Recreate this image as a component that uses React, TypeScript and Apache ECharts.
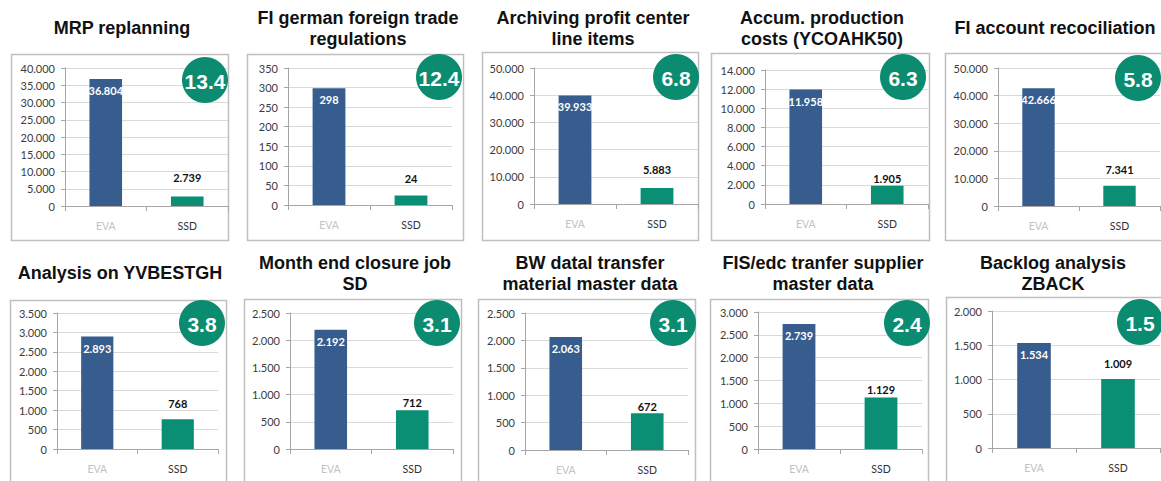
import React, { useEffect, useRef } from "react";
import * as echarts from "echarts";

// ---- data ----
const titles = [
  "MRP replanning",
  "FI german foreign trade\nregulations",
  "Archiving profit center\nline items",
  "Accum. production\ncosts (YCOAHK50)",
  "FI account recociliation",
  "Analysis on YVBESTGH",
  "Month end closure job\nSD",
  "BW datal transfer\nmaterial master data",
  "FIS/edc tranfer supplier\nmaster data",
  "Backlog analysis\nZBACK",
];
const categories = ["EVA", "SSD"];
const evaValues = [36804, 298, 39933, 11958, 42666, 2893, 2192, 2063, 2739, 1534];
const ssdValues = [2739, 24, 5883, 1905, 7341, 768, 712, 672, 1129, 1009];
const speedupLabels = ["13.4", "12.4", "6.8", "6.3", "5.8", "3.8", "3.1", "3.1", "2.4", "1.5"];
const axisMax = [40000, 350, 50000, 14000, 50000, 3500, 2500, 2500, 3000, 2000];
const axisInterval = [5000, 50, 10000, 2000, 10000, 500, 500, 500, 500, 500];

// ---- layout (positions / styles) ----
const plotBoxes = [
  [65, 68, 228, 206],
  [288, 68, 452, 205],
  [534, 68, 698, 204],
  [765, 70, 928, 204],
  [998, 68, 1160, 206],
  [57, 313, 218, 449],
  [290, 313, 453, 449],
  [525, 313, 688, 450],
  [758, 312, 922, 449],
  [992, 311, 1160, 448],
];
const panelRects = [
  [11, 54, 217, 186],
  [247, 54, 216, 186],
  [482, 52, 216, 188],
  [711, 53, 218, 187],
  [945, 53, 222, 187],
  [10, 300, 216, 186],
  [244, 299, 217, 186],
  [478, 299, 217, 186],
  [710, 299, 218, 186],
  [946, 297, 222, 188],
];
const circleCenters = [
  [205, 80], [439, 77], [676, 77], [903, 77], [1138, 78],
  [202, 323], [437, 323], [673, 323], [907, 323], [1140, 322],
];
const titleCenters = [
  [122, 28], [358, 28], [593, 28], [822, 28], [1055, 28],
  [120, 273], [355, 273], [590, 273], [823, 273], [1053, 273],
];
const ssdLabelGap = [14, 12, 13, 2, 11, 10, 2, 1, 2, 10];

const BLUE = "#375d8e";
const GREEN = "#0a8f75";
const CIRCLE = "#0b8b70";

const fmt = (v: number) => String(v).replace(/\B(?=(\d{3})+(?!\d))/g, ".");

export default function App() {
  const ref = useRef<HTMLDivElement>(null);
  useEffect(() => {
    if (!ref.current) return;
    const chart = echarts.init(ref.current, undefined, { renderer: "svg" });
    const grid: any[] = [];
    const xAxis: any[] = [];
    const yAxis: any[] = [];
    const series: any[] = [];
    const graphic: any[] = [];
    for (let i = 0; i < titles.length; i++) {
      const [x0, y0, x1, y1] = plotBoxes[i];
      grid.push({ left: x0, top: y0, width: x1 - x0, height: y1 - y0 });
      xAxis.push({
        type: "category",
        gridIndex: i,
        data: categories,
        axisLine: { lineStyle: { color: "#a6a6a6", width: 1 } },
        axisTick: { show: true, length: 5, lineStyle: { color: "#a6a6a6" } },
        axisLabel: {
          margin: 14,
          fontSize: 10.5,
          fontFamily: "Lato",
          color: (_v: any, idx: number) => (idx === 0 ? "#c2c2c2" : "#333333"),
        },
      });
      yAxis.push({
        type: "value",
        gridIndex: i,
        min: 0,
        max: axisMax[i],
        interval: axisInterval[i],
        axisLine: { show: true, lineStyle: { color: "#a6a6a6", width: 1 } },
        axisTick: { show: true, length: 4, lineStyle: { color: "#a6a6a6" } },
        splitLine: { show: true, lineStyle: { color: "#d9d9d9", width: 1 } },
        axisLabel: {
          margin: 10,
          fontSize: 11,
          fontFamily: "Lato",
          color: "#3c3c3c",
          formatter: (v: number) => fmt(v),
        },
      });
      series.push({
        type: "bar",
        xAxisIndex: i,
        yAxisIndex: i,
        barWidth: "40%",
        data: [
          {
            value: evaValues[i],
            itemStyle: { color: BLUE },
            label: {
              show: true,
              position: "insideTop",
              distance: 6,
              color: "#ffffff",
              fontWeight: "bold",
              fontSize: 11,
              fontFamily: "Lato",
              formatter: (p: any) => fmt(p.value),
            },
          },
          {
            value: ssdValues[i],
            itemStyle: { color: GREEN },
            label: {
              show: true,
              position: "top",
              distance: ssdLabelGap[i],
              color: "#111111",
              fontWeight: "bold",
              fontSize: 11,
              fontFamily: "Lato",
              formatter: (p: any) => fmt(p.value),
            },
          },
        ],
      });
      const [rx, ry, rw, rh] = panelRects[i];
      graphic.push({
        type: "rect",
        silent: true,
        z: 0,
        shape: { x: rx + 0.5, y: ry + 0.5, width: rw, height: rh },
        style: { fill: "none", stroke: "#bfbfbf", lineWidth: 1.5 },
      });
      const [tx, ty] = titleCenters[i];
      graphic.push({
        type: "text",
        silent: true,
        z: 10,
        x: tx,
        y: ty,
        style: {
          text: titles[i],
          fontFamily: "Liberation Sans, Arial, sans-serif",
          fontWeight: "bold",
          fontSize: 18,
          lineHeight: 21,
          fill: "#111111",
          align: "center",
          verticalAlign: "middle",
        },
      });
      const [cx, cy] = circleCenters[i];
      graphic.push({
        type: "circle",
        silent: true,
        z: 100,
        shape: { cx, cy, r: 23 },
        style: { fill: CIRCLE },
      });
      graphic.push({
        type: "text",
        silent: true,
        z: 101,
        x: cx,
        y: cy + 1,
        style: {
          text: speedupLabels[i],
          fontFamily: "Liberation Sans, Arial, sans-serif",
          fontWeight: "bold",
          fontSize: 21,
          fill: "#ffffff",
          align: "center",
          verticalAlign: "middle",
        },
      });
    }
    chart.setOption({
      animation: false,
      backgroundColor: "#ffffff",
      grid,
      xAxis,
      yAxis,
      series,
      graphic,
    });
    return () => chart.dispose();
  }, []);
  return (
    <div
      ref={ref}
      style={{ position: "absolute", left: 0, top: 0, width: 1161, height: 481 }}
    />
  );
}
